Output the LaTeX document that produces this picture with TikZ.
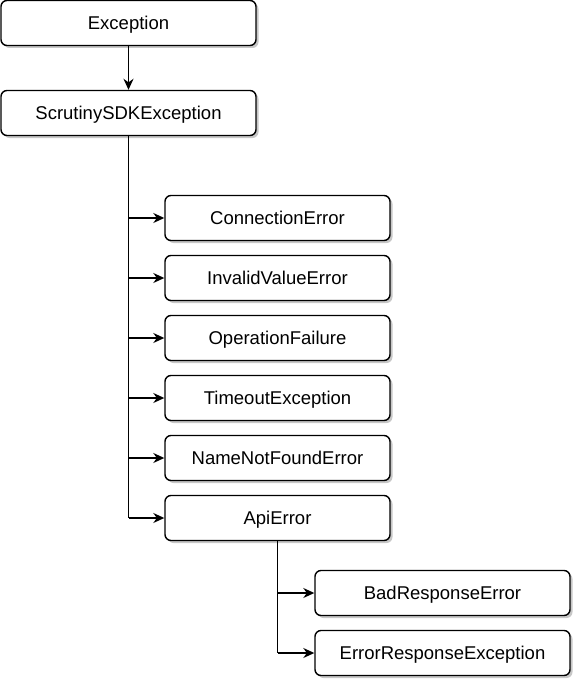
\documentclass[tikz,border=0pt]{standalone}
\usepackage{fontspec}
\setmainfont{Liberation Sans}
\usetikzlibrary{arrows.meta,shadows}
\begin{document}
\begin{tikzpicture}[x=1pt,y=-1pt,
  cls/.style={draw=black, line width=1.4pt, rounded corners=6pt, fill=white,
    minimum height=45pt, inner sep=0pt, text height=13.5pt, text depth=0pt,
    font=\fontsize{18.5}{21}\selectfont,
    drop shadow={shadow xshift=2.5pt, shadow yshift=-2.5pt, opacity=0.22, fill=black}},
  wide/.style={cls, minimum width=255pt},
  mid/.style={cls, minimum width=225pt},
  conn/.style={draw=black, line width=1.5pt, -{Stealth[length=11pt,width=10pt]}},
  trunk/.style={draw=black, line width=1.5pt}
]
\useasboundingbox (0,0) rectangle (588,693);
\node[wide] (exc) at (128.5,23) {Exception};
\node[wide] (sdk) at (128.5,113) {ScrutinySDKException};
\node[mid] (ce) at (277.5,218) {ConnectionError};
\node[mid] (ive) at (277.5,278) {InvalidValueError};
\node[mid] (of) at (277.5,338) {OperationFailure};
\node[mid] (te) at (277.5,398) {TimeoutException};
\node[mid] (nnf) at (277.5,458) {NameNotFoundError};
\node[mid] (api) at (277.5,518) {ApiError};
\node[wide] (bre) at (442.5,593) {BadResponseError};
\node[wide] (ere) at (442.5,653) {ErrorResponseException};
\draw[conn] (exc) -- (sdk);
\coordinate (t1) at (sdk.south |- api.west);
\draw[trunk] (sdk.south) -- (t1);
\foreach \n in {ce,ive,of,te,nnf,api}{
  \draw[conn] (sdk.south |- \n.west) -- (\n.west);
}
\coordinate (t2) at (api.south |- ere.west);
\draw[trunk] (api.south) -- (t2);
\foreach \n in {bre,ere}{
  \draw[conn] (api.south |- \n.west) -- (\n.west);
}
\end{tikzpicture}
\end{document}
